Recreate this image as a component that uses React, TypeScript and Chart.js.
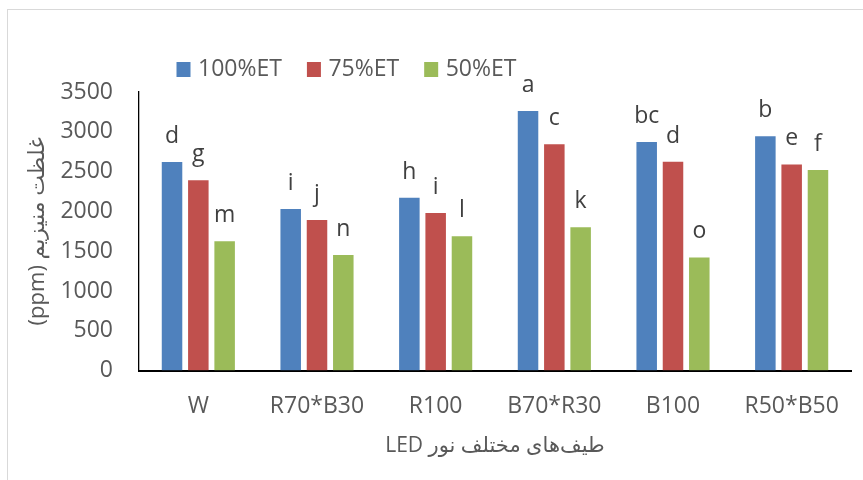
import React, { useEffect, useRef } from "react";
import { Chart, registerables } from "chart.js";

Chart.register(...registerables);

const categories = ["W", "R70*B30", "R100", "B70*R30", "B100", "R50*B50"];
const seriesNames = ["100%ET", "75%ET", "50%ET"];
const et100 = [2621, 2031, 2173, 3261, 2872, 2943];
const et75 = [2391, 1893, 1980, 2845, 2624, 2591];
const et50 = [1625, 1453, 1688, 1800, 1423, 2520];
const letters100 = ["d", "i", "h", "a", "bc", "b"];
const letters75 = ["g", "j", "i", "c", "d", "e"];
const letters50 = ["m", "n", "l", "k", "o", "f"];
const yTicks = [0, 500, 1000, 1500, 2000, 2500, 3000, 3500];
const yTitle = "(ppm) غلظت منیزیم";
const xTitle = "LED طیف‌های مختلف نور";

const colors = ["#4F81BD", "#C0504D", "#9BBB59"];
const FONT = "'Open Sans', 'DejaVu Sans', sans-serif";

export default function App() {
  const ref = useRef<HTMLCanvasElement | null>(null);

  useEffect(() => {
    if (!ref.current) return;
    const letterSets = [letters100, letters75, letters50];

    const barLabels = {
      id: "barLabels",
      afterDatasetsDraw(chart: any) {
        const ctx = chart.ctx;
        ctx.save();
        ctx.font = `23px ${FONT}`;
        ctx.fillStyle = "#404040";
        ctx.textAlign = "center";
        ctx.textBaseline = "alphabetic";
        chart.data.datasets.forEach((ds: any, i: number) => {
          const meta = chart.getDatasetMeta(i);
          meta.data.forEach((el: any, j: number) => {
            ctx.fillText(letterSets[i][j], el.x, el.y - 19);
          });
        });
        ctx.restore();
      },
    };

    const customLegend = {
      id: "customLegend",
      afterDraw(chart: any) {
        const ctx = chart.ctx;
        ctx.save();
        ctx.font = `23px ${FONT}`;
        ctx.textBaseline = "middle";
        ctx.textAlign = "left";
        let x = 176.5;
        const yc = 69.5;
        chart.data.datasets.forEach((ds: any) => {
          ctx.fillStyle = ds.backgroundColor;
          ctx.fillRect(x, yc - 7.5, 14, 15);
          ctx.fillStyle = "#595959";
          const tx = x + 21.5;
          ctx.fillText(ds.label, tx, yc);
          x = tx + ctx.measureText(ds.label).width + 25;
        });
        ctx.restore();
      },
    };

    const chart = new Chart(ref.current, {
      type: "bar",
      data: {
        labels: categories,
        datasets: [
          { label: seriesNames[0], data: et100, backgroundColor: colors[0] },
          { label: seriesNames[1], data: et75, backgroundColor: colors[1] },
          { label: seriesNames[2], data: et50, backgroundColor: colors[2] },
        ],
      },
      options: {
        animation: false,
        responsive: true,
        maintainAspectRatio: false,
        devicePixelRatio: 1,
        layout: { padding: { top: 92, right: 12, bottom: 0, left: 0 } },
        datasets: {
          bar: { categoryPercentage: 0.665, barPercentage: 0.78 },
        },
        plugins: {
          legend: { display: false },
          tooltip: { enabled: false },
        },
        scales: {
          x: {
            grid: { display: true, drawOnChartArea: false, drawTicks: false },
            border: { display: true, color: "#000000", width: 2 },
            ticks: {
              color: "#595959",
              font: { family: FONT, size: 23 },
              padding: 22,
              maxRotation: 0,
              autoSkip: false,
            },
            title: {
              display: true,
              text: xTitle,
              color: "#595959",
              font: { family: FONT, size: 21 },
              padding: { top: 0, bottom: 21 },
            },
            afterFit(scale: any) {
              scale.height = 480 - 370.7;
            },
          },
          y: {
            min: 0,
            max: 3500,
            afterBuildTicks(scale: any) {
              scale.ticks = yTicks.map((v) => ({ value: v }));
            },
            grid: { display: true, drawOnChartArea: false, drawTicks: false },
            border: { display: true, color: "#000000", width: 1.3 },
            ticks: {
              color: "#595959",
              font: { family: FONT, size: 23 },
              padding: 26,
              callback: (v: any) => String(v),
            },
            title: {
              display: true,
              text: yTitle,
              color: "#595959",
              font: { family: FONT, size: 22 },
              padding: { top: 25, bottom: 0 },
            },
            afterFit(scale: any) {
              scale.width = 139;
            },
          },
        },
      },
      plugins: [barLabels, customLegend],
    });
    return () => chart.destroy();
  }, []);

  return (
    <div style={{ position: "absolute", left: 0, top: 0, width: 863, height: 480, overflow: "hidden", background: "#ffffff" }}>
      <div
        style={{
          position: "absolute",
          left: 7,
          top: 9,
          width: 900,
          height: 520,
          border: "1px solid #d9d9d9",
        }}
      />
      <div style={{ position: "absolute", left: 0, top: 0, width: 863, height: 480 }}>
        <canvas ref={ref} />
      </div>
    </div>
  );
}
